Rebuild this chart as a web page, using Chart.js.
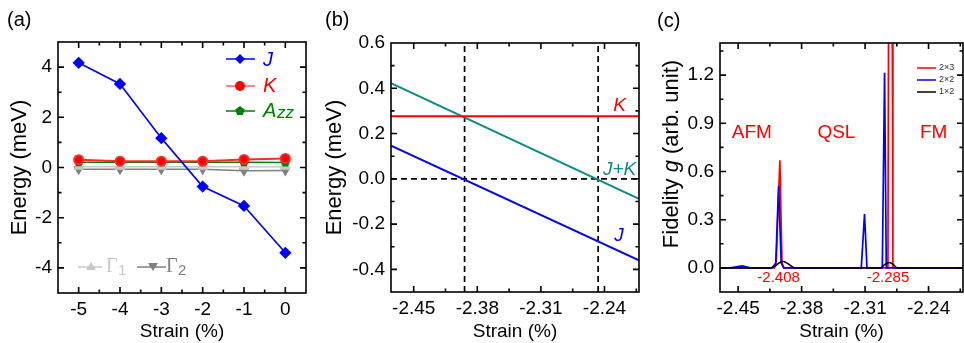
<!DOCTYPE html>
<html>
<head>
<meta charset="utf-8">
<script src="https://cdn.jsdelivr.net/npm/chart.js@4.4.0/dist/chart.umd.min.js"></script>
<style>
body { margin: 0; background: #fff; }
#wrap { position: relative; width: 964px; height: 343px; }
canvas { position: absolute; top: 0; }
</style>
</head>
<body>
<div id="wrap">
<canvas id="chartA" width="320" height="343" style="left:0px"></canvas>
<canvas id="chartB" width="322" height="343" style="left:320px"></canvas>
<canvas id="chartC" width="322" height="343" style="left:642px"></canvas>
</div>
<script>
// (a) exchange parameters vs strain
const strainA = [-5, -4, -3, -2, -1, 0];
const jA = [4.17, 3.33, 1.17, -0.76, -1.53, -3.4];
const kA = [0.31, 0.25, 0.25, 0.25, 0.32, 0.36];
const azzA = [0.21, 0.21, 0.21, 0.21, 0.21, 0.2];
const gamma1A = [0.03, 0.03, 0.03, 0.03, 0.03, 0.03];
const gamma2A = [-0.07, -0.07, -0.07, -0.07, -0.13, -0.12];
const aXTicks = [-5, -4, -3, -2, -1, 0];
const aYTicks = [-4, -2, 0, 2, 4];

// (b) zoom around the QSL window
const strainB = [-2.475, -2.202];
const jB = [0.147, -0.36];
const kB = [0.276, 0.276];
const jkB = [0.423, -0.089];
const crossB = [-2.394, -2.247];
const bXTicks = [-2.45, -2.38, -2.31, -2.24];
const bYTicks = [-0.4, -0.2, 0, 0.2, 0.4, 0.6];

// (c) fidelity for three cluster sizes
const fid23X = [-2.47, -2.4100, -2.408, -2.404, -2.4016, -2.3995, -2.2848, -2.2838, -2.2803, -2.2793, -2.202];
const fid23Y = [0, 0, 0.04, 0.67, 0.03, 0, 0, 2.2, 2.2, 0, 0];
const fid22X = [-2.47, -2.4586, -2.4457, -2.4366, -2.4125, -2.4085, -2.4054, -2.4025, -2.3998, -2.3142, -2.3106, -2.3079, -2.291, -2.2885, -2.2866, -2.202];
const fid22Y = [0, 0, 0.012, 0, 0, 0.03, 0.51, 0.03, 0, 0, 0.336, 0, 0, 1.214, 0, 0];
const fid12X = [-2.47, -2.4145, -2.409, -2.4045, -2.4005, -2.396, -2.3915, -2.3869, -2.2932, -2.2885, -2.2833, -2.279, -2.2745, -2.202];
const fid12Y = [0, 0, 0.012, 0.032, 0.04, 0.03, 0.012, 0, 0, 0.02, 0.033, 0.022, 0, 0];
const cXTicks = [-2.45, -2.38, -2.31, -2.24];
const cYTicks = [0, 0.3, 0.6, 0.9, 1.2];

Chart.defaults.font.family = '"Liberation Sans", Arial, sans-serif';
Chart.defaults.font.size = 19;
Chart.defaults.color = '#000';
Chart.defaults.animation = false;
Chart.defaults.plugins.legend.display = false;
Chart.defaults.plugins.tooltip.enabled = false;

const SANS = '"Liberation Sans", Arial, sans-serif';
const SERIF = '"Liberation Serif", "Times New Roman", serif';

const pts = (xs, ys) => xs.map((x, i) => ({x: x, y: ys[i]}));

function pentagon(color, r) {
	const c = document.createElement('canvas');
	c.width = c.height = 2 * r + 2;
	const g = c.getContext('2d');
	g.fillStyle = color;
	g.beginPath();
	for (let i = 0; i < 5; i++) {
		const a = -Math.PI / 2 + i * 2 * Math.PI / 5;
		g.lineTo(r + 1 + r * Math.cos(a), r + 1 + r * Math.sin(a));
	}
	g.closePath();
	g.fill();
	return c;
}

function axis(min, max, ticks, digits, pad, fit, title) {
	return {
		type: 'linear',
		min: min,
		max: max,
		grid: { display: false, drawTicks: false },
		border: { display: false },
		afterBuildTicks: s => { s.ticks = ticks.map(v => ({ value: v })); },
		afterFit: fit,
		ticks: {
			autoSkip: false,
			maxRotation: 0,
			padding: pad,
			callback: v => Number(v).toFixed(digits)
		},
		title: title ? { display: true, text: title.text, font: { size: title.size }, padding: 0 } : { display: false }
	};
}

// major ticks plus a minor one halfway between, all inward
function marks(scale, majors) {
	const half = (majors[1] - majors[0]) / 2;
	const out = [];
	for (let i = -6; i <= majors.length * 2 + 6; i++) {
		const v = majors[0] + i * half;
		if (v <= scale.min + 1e-9 || v >= scale.max - 1e-9) continue;
		out.push({ v: v, major: i % 2 === 0 });
	}
	return out;
}

function frame(xMajor, yMajor) {
	return {
		id: 'frame',
		afterDatasetsDraw(chart) {
			const ctx = chart.ctx, a = chart.chartArea, x = chart.scales.x, y = chart.scales.y;
			ctx.save();
			ctx.strokeStyle = '#000';
			ctx.lineWidth = 1.6;
			ctx.strokeRect(a.left, a.top, a.right - a.left, a.bottom - a.top);
			ctx.beginPath();
			marks(x, xMajor).forEach(m => {
				const p = x.getPixelForValue(m.v), len = m.major ? 6 : 3.5;
				ctx.moveTo(p, a.bottom); ctx.lineTo(p, a.bottom - len);
				ctx.moveTo(p, a.top); ctx.lineTo(p, a.top + len);
			});
			marks(y, yMajor).forEach(m => {
				const p = y.getPixelForValue(m.v), len = m.major ? 6 : 3.5;
				ctx.moveTo(a.left, p); ctx.lineTo(a.left + len, p);
				ctx.moveTo(a.right, p); ctx.lineTo(a.right - len, p);
			});
			ctx.stroke();
			ctx.restore();
		}
	};
}

function text(ctx, s, x, y, font, color, align) {
	ctx.font = font;
	ctx.fillStyle = color;
	ctx.textAlign = align || 'left';
	ctx.textBaseline = 'middle';
	ctx.fillText(s, x, y);
}

// Panel (a)
const greenPent = pentagon('#008000', 5);
new Chart(document.getElementById('chartA'), {
	type: 'line',
	data: {
		datasets: [{
			data: pts(strainA, jA),
			borderColor: '#0000ff',
			backgroundColor: '#0000ff',
			borderWidth: 1.6,
			pointStyle: 'rectRot',
			pointRadius: 5
		}, {
			data: pts(strainA, kA),
			borderColor: '#ff2a2a',
			backgroundColor: '#ff0000',
			borderWidth: 2,
			pointRadius: 4.5
		}, {
			data: pts(strainA, azzA),
			borderColor: '#008000',
			backgroundColor: '#008000',
			borderWidth: 1.6,
			pointStyle: greenPent
		}, {
			data: pts(strainA, gamma1A),
			borderColor: '#c8c8c8',
			backgroundColor: '#c8c8c8',
			borderWidth: 1.6,
			pointStyle: 'triangle',
			pointRadius: 4.5
		}, {
			data: pts(strainA, gamma2A),
			borderColor: '#808080',
			backgroundColor: '#808080',
			borderWidth: 1.6,
			pointStyle: 'triangle',
			rotation: 180,
			pointRadius: 4.5
		}]
	},
	options: {
		responsive: false,
		layout: { padding: { top: 42, right: 14, bottom: 0, left: 7 } },
		scales: {
			x: axis(-5.5, 0.5, aXTicks, 0, 5, s => { s.height = 50; }, { text: 'Strain (%)', size: 19 }),
			y: axis(-5, 5, aYTicks, 0, 6, s => { s.width = 51; }, { text: 'Energy (meV)', size: 22 })
		}
	},
	plugins: [frame(aXTicks, aYTicks), {
		id: 'decoA',
		afterDraw(chart) {
			const ctx = chart.ctx;
			ctx.save();
			text(ctx, '(a)', 7, 20, '20px ' + SANS, '#000');
			// legend J, K, Azz
			const rows = [
				{ y: 59, lc: '#0000ff' },
				{ y: 86, lc: '#ff6060' },
				{ y: 111, lc: '#008000' }
			];
			rows.forEach(r => {
				ctx.strokeStyle = r.lc; ctx.lineWidth = 1.5;
				ctx.beginPath(); ctx.moveTo(226, r.y); ctx.lineTo(255, r.y); ctx.stroke();
			});
			ctx.fillStyle = '#0000ff';
			ctx.beginPath(); ctx.moveTo(240, 54); ctx.lineTo(245, 59); ctx.lineTo(240, 64); ctx.lineTo(235, 59); ctx.closePath(); ctx.fill();
			ctx.fillStyle = '#ff0000';
			ctx.beginPath(); ctx.arc(240, 86, 5, 0, Math.PI * 2); ctx.fill();
			ctx.drawImage(greenPent, 240 - 6, 111 - 6);
			text(ctx, 'J', 263, 60, 'italic 20px ' + SANS, '#0000ff');
			text(ctx, 'K', 263, 86, 'italic 20px ' + SANS, '#ff0000');
			text(ctx, 'A', 263, 111, 'italic 20px ' + SANS, '#008000');
			text(ctx, 'zz', 277, 113, 'italic 17px ' + SANS, '#008000');
			// legend Gamma1, Gamma2
			ctx.strokeStyle = '#c8c8c8'; ctx.lineWidth = 1.5;
			ctx.beginPath(); ctx.moveTo(78, 267); ctx.lineTo(102, 267); ctx.stroke();
			ctx.fillStyle = '#c8c8c8';
			ctx.beginPath(); ctx.moveTo(91, 262); ctx.lineTo(96, 270); ctx.lineTo(86, 270); ctx.closePath(); ctx.fill();
			text(ctx, 'Γ', 106, 267, '20px ' + SERIF, '#c8c8c8');
			text(ctx, '1', 118, 271, '15px ' + SANS, '#c8c8c8');
			ctx.strokeStyle = '#808080';
			ctx.beginPath(); ctx.moveTo(137, 267); ctx.lineTo(166, 267); ctx.stroke();
			ctx.fillStyle = '#808080';
			ctx.beginPath(); ctx.moveTo(148, 263); ctx.lineTo(158, 263); ctx.lineTo(153, 271); ctx.closePath(); ctx.fill();
			text(ctx, 'Γ', 166, 267, '20px ' + SERIF, '#808080');
			text(ctx, '2', 178, 271, '15px ' + SANS, '#808080');
			ctx.restore();
		}
	}]
});

// Panel (b)
const dash = [6, 4];
new Chart(document.getElementById('chartB'), {
	type: 'line',
	data: {
		datasets: [{
			data: pts(strainB, jB),
			borderColor: '#0000ff',
			borderWidth: 2,
			pointRadius: 0
		}, {
			data: pts(strainB, kB),
			borderColor: '#ff0000',
			borderWidth: 2,
			pointRadius: 0
		}, {
			data: pts(strainB, jkB),
			borderColor: '#0e8c88',
			borderWidth: 2,
			pointRadius: 0
		}, {
			data: pts(strainB, [0, 0]),
			borderColor: '#000',
			borderWidth: 1.7,
			borderDash: dash,
			pointRadius: 0
		}, {
			data: pts([crossB[0], crossB[0]], [-0.5, 0.6]),
			borderColor: '#000',
			borderWidth: 1.7,
			borderDash: dash,
			pointRadius: 0
		}, {
			data: pts([crossB[1], crossB[1]], [-0.5, 0.6]),
			borderColor: '#000',
			borderWidth: 1.7,
			borderDash: dash,
			pointRadius: 0
		}]
	},
	options: {
		responsive: false,
		layout: { padding: { top: 43, right: 3, bottom: 0, left: 2 } },
		scales: {
			x: axis(-2.475, -2.202, bXTicks, 2, 5, s => { s.height = 51; }, { text: 'Strain (%)', size: 19 }),
			y: axis(-0.5, 0.6, bYTicks, 1, 6, s => { s.width = 69; }, { text: 'Energy (meV)', size: 22 })
		}
	},
	plugins: [frame(bXTicks, bYTicks), {
		id: 'decoB',
		afterDraw(chart) {
			const ctx = chart.ctx, x = chart.scales.x, y = chart.scales.y;
			ctx.save();
			text(ctx, '(b)', 5, 20, '20px ' + SANS, '#000');
			const f = 'italic 19px ' + SANS;
			text(ctx, 'K', x.getPixelForValue(-2.2233), y.getPixelForValue(0.323), f, '#ff0000', 'center');
			text(ctx, 'J+K', x.getPixelForValue(-2.2233), y.getPixelForValue(0.039), f, '#0e8c88', 'center');
			text(ctx, 'J', x.getPixelForValue(-2.2239), y.getPixelForValue(-0.253), f, '#0000ff', 'center');
			ctx.restore();
		}
	}]
});

// Panel (c)
new Chart(document.getElementById('chartC'), {
	type: 'line',
	data: {
		datasets: [{
			data: pts(fid12X, fid12Y),
			borderColor: '#000',
			borderWidth: 1.5,
			pointRadius: 0,
			cubicInterpolationMode: 'monotone',
			order: 0
		}, {
			data: pts(fid22X, fid22Y),
			borderColor: '#0000ff',
			borderWidth: 1.7,
			pointRadius: 0,
			order: 1
		}, {
			data: pts(fid23X, fid23Y),
			borderColor: '#ff0000',
			borderWidth: 1.7,
			pointRadius: 0,
			order: 2
		}]
	},
	options: {
		responsive: false,
		layout: { padding: { top: 43, right: 1, bottom: 0, left: 0 } },
		scales: {
			x: axis(-2.47, -2.202, cXTicks, 2, 5, s => { s.height = 51; }, { text: 'Strain (%)', size: 19 }),
			y: axis(-0.15, 1.4, cYTicks, 1, 6, s => { s.width = 78; }, null)
		}
	},
	plugins: [frame(cXTicks, cYTicks), {
		id: 'decoC',
		afterDraw(chart) {
			const ctx = chart.ctx, x = chart.scales.x, y = chart.scales.y;
			ctx.save();
			text(ctx, '(c)', 15, 21, '20px ' + SANS, '#000');
			// y title with italic g
			const parts = [['Fidelity ', '22px ' + SANS], ['g', 'italic 22px ' + SANS], [' (arb. unit)', '22px ' + SANS]];
			let total = 0;
			parts.forEach(p => { ctx.font = p[1]; p.w = ctx.measureText(p[0]).width; total += p.w; });
			ctx.translate(29.5, 154);
			ctx.rotate(-Math.PI / 2);
			let cx = -total / 2;
			parts.forEach(p => { text(ctx, p[0], cx, 0, p[1], '#000'); cx += p.w; });
			ctx.setTransform(1, 0, 0, 1, 0, 0);
			const f = '19px ' + SANS;
			text(ctx, 'AFM', x.getPixelForValue(-2.4349), y.getPixelForValue(0.843), f, '#ff0000', 'center');
			text(ctx, 'QSL', x.getPixelForValue(-2.3416), y.getPixelForValue(0.843), f, '#ff0000', 'center');
			text(ctx, 'FM', x.getPixelForValue(-2.2344), y.getPixelForValue(0.843), f, '#ff0000', 'center');
			text(ctx, '-2.408', x.getPixelForValue(-2.4054), y.getPixelForValue(-0.059), '15px ' + SANS, '#ff0000', 'center');
			text(ctx, '-2.285', x.getPixelForValue(-2.2847), y.getPixelForValue(-0.059), '15px ' + SANS, '#ff0000', 'center');
			// legend
			const leg = [['2×3', '#ff0000', 68], ['2×2', '#0000ff', 80], ['1×2', '#000', 92]];
			leg.forEach(l => {
				ctx.strokeStyle = l[1]; ctx.lineWidth = 1.5;
				ctx.beginPath(); ctx.moveTo(275, l[2]); ctx.lineTo(294, l[2]); ctx.stroke();
				text(ctx, l[0], 297, l[2], '9px ' + SANS, '#333');
			});
			ctx.restore();
		}
	}]
});
</script>
</body>
</html>
